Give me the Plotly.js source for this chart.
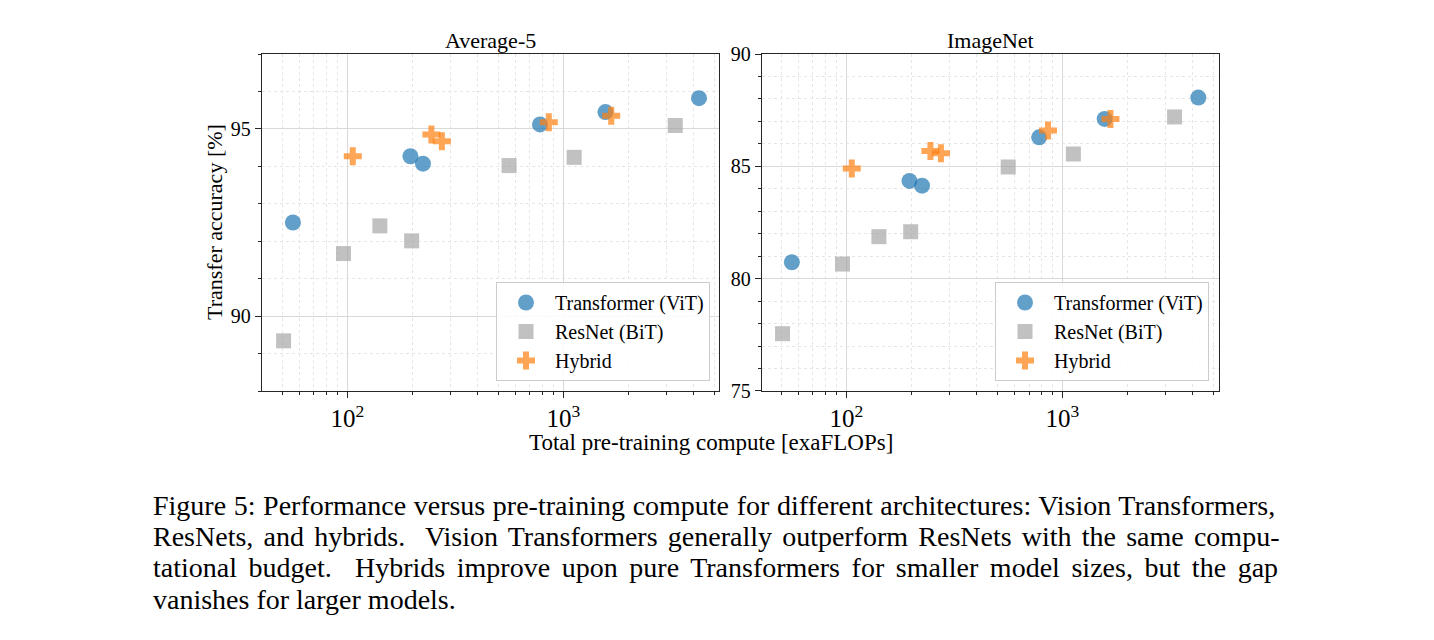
<!DOCTYPE html>
<html>
<head>
<meta charset="utf-8">
<script src="https://cdn.plot.ly/plotly-3.0.1.min.js"></script>
<style>html,body{margin:0;padding:0;background:#fff;}#chart{width:1434px;height:640px;}</style>
</head>
<body>
<div id="chart"></div>
<script>
// ---- data ----
const vitX = [56, 196, 224, 780, 1567, 4250];
const resX = [50.7, 96, 141.5, 198.5, 561, 1123, 3300];
const hybX = [106, 245, 274, 857, 1667];

const avgVit = [92.50, 94.27, 94.07, 95.12, 95.45, 95.82];
const avgRes = [89.34, 91.67, 92.41, 92.01, 94.02, 94.24, 95.09];
const avgHyb = [94.27, 94.85, 94.67, 95.18, 95.35];

const inVit = [80.73, 84.35, 84.14, 86.29, 87.11, 88.06];
const inRes = [77.55, 80.65, 81.87, 82.09, 84.97, 85.55, 87.20];
const inHyb = [84.90, 85.68, 85.58, 86.60, 87.11];

const seriesNames = ["Transformer (ViT)", "ResNet (BiT)", "Hybrid"];
const panelTitles = ["Average-5", "ImageNet"];
const xTitle = "Total pre-training compute [exaFLOPs]";
const yTitle = "Transfer accuracy [%]";
const caption = [
  "Figure 5: Performance versus pre-training compute for different architectures: Vision Transformers,",
  "ResNets, and hybrids.  Vision Transformers generally outperform ResNets with the same compu-",
  "tational budget.  Hybrids improve upon pure Transformers for smaller model sizes, but the gap",
  "vanishes for larger models."
];
const captionWordSpacing = [0.6, 3.2, 4.6, 0];

// ---- styles ----
const FONT = "Liberation Serif";
const styles = [
  {symbol: "circle", size: 16, color: "rgba(31,119,180,0.7)"},
  {symbol: "square", size: 15, color: "rgba(160,160,160,0.65)"},
  {symbol: "cross", size: 15, color: "rgba(255,127,14,0.7)"}
];

function mk(x, y, i, xa, ya, lg) {
  return {
    type: "scatter", mode: "markers", x: x, y: y, name: seriesNames[i],
    xaxis: xa, yaxis: ya, legend: lg, showlegend: true,
    marker: {symbol: styles[i].symbol, size: styles[i].size, color: styles[i].color, line: {width: 0}},
    hoverinfo: "x+y+name"
  };
}

const traces = [
  mk(vitX, avgVit, 0, "x", "y", "legend"),
  mk(resX, avgRes, 1, "x", "y", "legend"),
  mk(hybX, avgHyb, 2, "x", "y", "legend"),
  mk(vitX, inVit, 0, "x2", "y2", "legend2"),
  mk(resX, inRes, 1, "x2", "y2", "legend2"),
  mk(hybX, inHyb, 2, "x2", "y2", "legend2")
];

const AXC = "#262626";
function xaxis(domain, range, anchor) {
  return {
    type: "log", domain: domain, range: range, anchor: anchor,
    dtick: 1, exponentformat: "power", showexponent: "all",
    ticks: "outside", ticklen: 6, tickwidth: 1, tickcolor: AXC,
    tickfont: {family: FONT, size: 20, color: "#000"},
    showline: true, linecolor: AXC, linewidth: 1.3, mirror: true,
    showgrid: true, gridcolor: "#d9d9d9", gridwidth: 1,
    zeroline: false,
    minor: {ticks: "outside", ticklen: 3, tickcolor: AXC, dtick: "D1", showgrid: true, gridcolor: "#e6e6e6", griddash: "dot", gridwidth: 1}
  };
}
function yaxis(domain, range, anchor, dt) {
  return {
    domain: domain, range: range, anchor: anchor, dtick: dt, tick0: 0,
    ticks: "outside", ticklen: 6, tickwidth: 1, tickcolor: AXC,
    tickfont: {family: FONT, size: 20, color: "#000"},
    showline: true, linecolor: AXC, linewidth: 1.3, mirror: true,
    showgrid: true, gridcolor: "#d9d9d9", gridwidth: 1,
    zeroline: false,
    minor: {ticks: "outside", ticklen: 3, tickcolor: AXC, dtick: 1, showgrid: true, gridcolor: "#e6e6e6", griddash: "dot", gridwidth: 1}
  };
}

const W = 1434, H = 640;
const px = v => v / W, py = v => 1 - v / H;

const annotations = [
  {text: panelTitles[0], x: px(490.5), y: py(40), xref: "paper", yref: "paper", xanchor: "center", yanchor: "middle", showarrow: false, font: {family: FONT, size: 22, color: "#000"}},
  {text: panelTitles[1], x: px(990), y: py(40), xref: "paper", yref: "paper", xanchor: "center", yanchor: "middle", showarrow: false, font: {family: FONT, size: 22, color: "#000"}},
  {text: xTitle, x: px(711), y: py(442), xref: "paper", yref: "paper", xanchor: "center", yanchor: "middle", showarrow: false, font: {family: FONT, size: 23, color: "#000"}},
  {text: yTitle, x: px(214), y: py(222), xref: "paper", yref: "paper", xanchor: "center", yanchor: "middle", textangle: -90, showarrow: false, font: {family: FONT, size: 22, color: "#000"}}
];
const capY = [505, 536, 567, 599];
caption.forEach((t, i) => {
  annotations.push({
    text: '<span style="word-spacing:' + captionWordSpacing[i] + 'px">' + t + '</span>',
    x: px(151), y: py(capY[i]), xref: "paper", yref: "paper", xanchor: "left", yanchor: "middle", align: "left",
    showarrow: false, font: {family: FONT, size: 28, color: "#000"}
  });
});

const legendBase = {
  xref: "paper", yref: "paper", xanchor: "right", yanchor: "bottom",
  bgcolor: "rgba(255,255,255,0.85)", bordercolor: "#cccccc", borderwidth: 1,
  font: {family: FONT, size: 20, color: "#000"}, itemwidth: 48
};

const layout = {
  width: W, height: H, margin: {l: 0, r: 0, t: 0, b: 0},
  paper_bgcolor: "#fff", plot_bgcolor: "#fff",
  xaxis: xaxis([px(262), px(719)], [1.605, 3.721], "y"),
  yaxis: yaxis([py(391), py(54)], [88, 97], "x", 5),
  xaxis2: xaxis([px(762), px(1219)], [1.610, 3.724], "y2"),
  yaxis2: yaxis([py(391), py(54)], [74.999, 90.001], "x2", 5),
  legend: Object.assign({}, legendBase, {x: px(710), y: py(381)}),
  legend2: Object.assign({}, legendBase, {x: px(1209), y: py(381)}),
  annotations: annotations,
  showlegend: true
};

Plotly.newPlot("chart", traces, layout, {displayModeBar: false});
</script>
</body>
</html>
